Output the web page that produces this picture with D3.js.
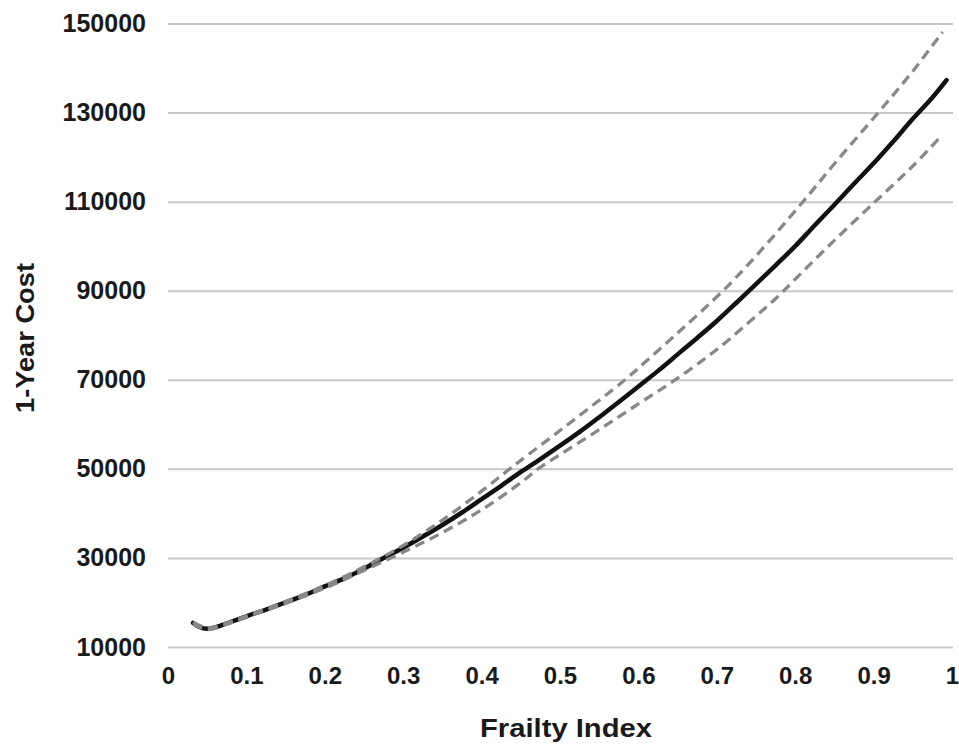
<!DOCTYPE html>
<html>
<head>
<meta charset="utf-8">
<script src="https://cdn.jsdelivr.net/npm/d3@7"></script>
<style>
  body { margin: 0; background: #fff; }
  svg { display: block; font-family: "Liberation Sans", Arial, Helvetica, sans-serif; }
  .tick text { fill: #1a1a1a; font-weight: bold; }
</style>
</head>
<body>
<svg id="svg"></svg>
<script>
// data
const yTicks = [10000, 30000, 50000, 70000, 90000, 110000, 130000, 150000];
const xTicks = [0, 0.1, 0.2, 0.3, 0.4, 0.5, 0.6, 0.7, 0.8, 0.9, 1];

const meanX = [0.032, 0.04, 0.05, 0.06, 0.075, 0.1, 0.125, 0.15, 0.175, 0.2, 0.225, 0.25, 0.275, 0.3, 0.325, 0.35, 0.375, 0.4, 0.425, 0.45, 0.475, 0.5, 0.525, 0.55, 0.575, 0.6, 0.625, 0.65, 0.675, 0.7, 0.725, 0.75, 0.775, 0.8, 0.825, 0.85, 0.875, 0.9, 0.925, 0.95, 0.975, 0.993];
const meanY = [15400, 14500, 14100, 14400, 15300, 16900, 18400, 20000, 21700, 23600, 25400, 27600, 30000, 32300, 34800, 37400, 40200, 43200, 46200, 49300, 52200, 55200, 58300, 61600, 65000, 68500, 72000, 75700, 79400, 83200, 87300, 91500, 95700, 100000, 104700, 109300, 114000, 118600, 123500, 128600, 133400, 137300];

const upperX = [0.032, 0.05, 0.075, 0.1, 0.15, 0.2, 0.25, 0.3, 0.35, 0.4, 0.436, 0.45, 0.5, 0.55, 0.583, 0.6, 0.65, 0.708, 0.75, 0.81, 0.85, 0.906, 0.95, 0.988];
const upperY = [15600, 14300, 15400, 17000, 20200, 23800, 28000, 32800, 38500, 45000, 50000, 51900, 58600, 65400, 70000, 72600, 80500, 90000, 97800, 110000, 118500, 130000, 139300, 148100];

const lowerX = [0.032, 0.05, 0.075, 0.1, 0.15, 0.2, 0.25, 0.3, 0.35, 0.4, 0.45, 0.472, 0.5, 0.55, 0.6, 0.647, 0.7, 0.75, 0.778, 0.8, 0.85, 0.902, 0.95, 0.987];
const lowerY = [15200, 13900, 15100, 16700, 19800, 23200, 27200, 31300, 35700, 40800, 46900, 50000, 53200, 58800, 64600, 70000, 76800, 84300, 88700, 92600, 101300, 110000, 118000, 124900];

// Globals & margins
const W = 959, H = 746;
const margin = {top: 23.5, right: 7, bottom: 99, left: 168};
const width = W - margin.left - margin.right;
const height = H - margin.top - margin.bottom;

const svg = d3.select('#svg').attr('width', W).attr('height', H);
const g = svg.append('g').attr('transform', `translate(${margin.left},${margin.top})`);

const x = d3.scaleLinear().domain([0, 1]).range([0, width]);
const y = d3.scaleLinear().domain([10000, 150000]).range([height, 0]);

// gridlines + y labels
const yAxis = g.append('g')
  .call(d3.axisLeft(y).tickValues(yTicks).tickSize(-width - 1).tickPadding(22).tickFormat(d3.format('d')));
yAxis.select('.domain').remove();
yAxis.selectAll('line').attr('stroke', '#c8c8c8').attr('stroke-width', 2);
yAxis.selectAll('text').style('font-size', '25px');

// x labels
const xAxis = g.append('g')
  .attr('transform', `translate(0,${height})`)
  .call(d3.axisBottom(x).tickValues(xTicks).tickSize(0).tickPadding(20).tickFormat(d => d));
xAxis.select('.domain').remove();
xAxis.selectAll('text').style('font-size', '24px');

const line = d3.line().x(d => x(d[0])).y(d => y(d[1])).curve(d3.curveCatmullRom);

g.append('path')
  .datum(d3.zip(meanX, meanY))
  .attr('d', line).attr('fill', 'none')
  .attr('stroke', '#111').attr('stroke-width', 4.5).attr('stroke-linejoin', 'round').attr('stroke-linecap', 'round');

// confidence bounds
[[upperX, upperY], [lowerX, lowerY]].forEach(([xs, ys]) => {
  g.append('path')
    .datum(d3.zip(xs, ys))
    .attr('d', line).attr('fill', 'none')
    .attr('stroke', '#888').attr('stroke-width', 3.3).attr('stroke-dasharray', '10,6');
});

// axis titles
svg.append('text')
  .attr('x', 566).attr('y', 737)
  .attr('text-anchor', 'middle')
  .attr('textLength', 172).attr('lengthAdjust', 'spacingAndGlyphs')
  .style('font-size', '25px').style('font-weight', 'bold').attr('fill', '#1a1a1a')
  .text('Frailty Index');

svg.append('text')
  .attr('transform', 'translate(34,338) rotate(-90)')
  .attr('text-anchor', 'middle')
  .attr('textLength', 150).attr('lengthAdjust', 'spacingAndGlyphs')
  .style('font-size', '25px').style('font-weight', 'bold').attr('fill', '#1a1a1a')
  .text('1-Year Cost');
</script>
</body>
</html>
